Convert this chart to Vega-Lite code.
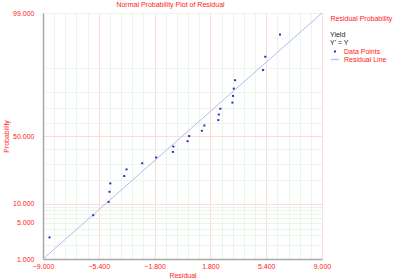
{
  "$schema": "https://vega.github.io/schema/vega-lite/v6.json",
  "width": 279,
  "height": 246,
  "autosize": "none",
  "padding": {"left": 43, "top": 13, "right": 78, "bottom": 21},
  "background": "white",
  "config": {
    "view": {"stroke": "#a8a8a8", "strokeWidth": 1},
    "font": "Liberation Sans"
  },
  "title": {
    "text": "Normal Probability Plot of Residual",
    "color": "#ff2020",
    "fontSize": 7,
    "fontWeight": "normal",
    "font": "Liberation Sans",
    "anchor": "middle",
    "frame": "group",
    "dx": -12,
    "offset": 1
  },
  "datasets": {
    "points": [
      {"Residual": -8.58, "Probability": 2.756, "Quantile": -1.918, "Series": "Data Points"},
      {"Residual": -5.76, "Probability": 6.693, "Quantile": -1.499, "Series": "Data Points"},
      {"Residual": -4.77, "Probability": 10.630, "Quantile": -1.2465, "Series": "Data Points"},
      {"Residual": -4.71, "Probability": 14.567, "Quantile": -1.0548, "Series": "Data Points"},
      {"Residual": -4.66, "Probability": 18.504, "Quantile": -0.8963, "Series": "Data Points"},
      {"Residual": -3.76, "Probability": 22.441, "Quantile": -0.7574, "Series": "Data Points"},
      {"Residual": -3.61, "Probability": 26.378, "Quantile": -0.6317, "Series": "Data Points"},
      {"Residual": -2.60, "Probability": 30.315, "Quantile": -0.5154, "Series": "Data Points"},
      {"Residual": -1.70, "Probability": 34.252, "Quantile": -0.4056, "Series": "Data Points"},
      {"Residual": -0.62, "Probability": 38.189, "Quantile": -0.3005, "Series": "Data Points"},
      {"Residual": -0.59, "Probability": 42.126, "Quantile": -0.1987, "Series": "Data Points"},
      {"Residual": 0.33, "Probability": 46.063, "Quantile": -0.0988, "Series": "Data Points"},
      {"Residual": 0.43, "Probability": 50.000, "Quantile": 0, "Series": "Data Points"},
      {"Residual": 1.25, "Probability": 53.937, "Quantile": 0.0988, "Series": "Data Points"},
      {"Residual": 1.41, "Probability": 57.874, "Quantile": 0.1987, "Series": "Data Points"},
      {"Residual": 2.31, "Probability": 61.811, "Quantile": 0.3005, "Series": "Data Points"},
      {"Residual": 2.34, "Probability": 65.748, "Quantile": 0.4056, "Series": "Data Points"},
      {"Residual": 2.44, "Probability": 69.685, "Quantile": 0.5154, "Series": "Data Points"},
      {"Residual": 3.22, "Probability": 73.622, "Quantile": 0.6317, "Series": "Data Points"},
      {"Residual": 3.26, "Probability": 77.559, "Quantile": 0.7574, "Series": "Data Points"},
      {"Residual": 3.31, "Probability": 81.496, "Quantile": 0.8963, "Series": "Data Points"},
      {"Residual": 3.39, "Probability": 85.433, "Quantile": 1.0548, "Series": "Data Points"},
      {"Residual": 5.20, "Probability": 89.370, "Quantile": 1.2465, "Series": "Data Points"},
      {"Residual": 5.34, "Probability": 93.307, "Quantile": 1.499, "Series": "Data Points"},
      {"Residual": 6.29, "Probability": 97.244, "Quantile": 1.918, "Series": "Data Points"}
    ],
    "line": [
      {"Residual": -9, "Probability": 1, "Quantile": -2.3263, "Series": "Residual Line"},
      {"Residual": 9, "Probability": 99, "Quantile": 2.3263, "Series": "Residual Line"}
    ]
  },
  "encoding": {
    "x": {
      "field": "Residual",
      "type": "quantitative",
      "scale": {"domain": [-9, 9], "nice": false, "zero": false},
      "axis": {
        "title": "Residual",
        "titleColor": "#ff2020",
        "titleFont": "Liberation Sans",
        "titleFontSize": 7,
        "titleFontWeight": "normal",
        "titlePadding": 2,
        "values": [-9, -8.28, -7.56, -6.84, -6.12, -5.4, -4.68, -3.96, -3.24, -2.52, -1.8, -1.08, -0.36, 0.36, 1.08, 1.8, 2.52, 3.24, 3.96, 4.68, 5.4, 6.12, 6.84, 7.56, 8.28, 9],
        "labelExpr": "abs((datum.value + 9) / 3.6 - round((datum.value + 9) / 3.6)) < 0.001 ? format(datum.value, '.3f') : ''",
        "labelColor": "#ff2020",
        "labelFont": "Liberation Sans",
        "labelFontSize": 7,
        "labelPadding": 3,
        "labelOverlap": false,
        "labelFlush": false,
        "labelDx": -2,
        "ticks": false,
        "domainColor": "#a8a8a8",
        "domainWidth": 1.5,
        "grid": true,
        "gridWidth": 1,
        "gridColor": {
          "condition": {"test": "abs((datum.value + 9) / 3.6 - round((datum.value + 9) / 3.6)) < 0.001", "value": "#ffdada"},
          "value": "#eaf6ea"
        }
      }
    },
    "color": {
      "field": "Series",
      "type": "nominal",
      "scale": {"domain": ["Data Points", "Residual Line"], "range": ["#2b2bc0", "#b8b8f2"]},
      "legend": {
        "orient": "none",
        "legendX": 287,
        "legendY": 18,
        "padding": 0,
        "title": ["Yield", "Y' = Y"],
        "titleColor": "#202020",
        "titleFont": "Liberation Sans",
        "titleFontSize": 7,
        "titleFontWeight": "normal",
        "titleLineHeight": 7.5,
        "titlePadding": 1,
        "labelColor": "#ff2020",
        "labelFont": "Liberation Sans",
        "labelFontSize": 7,
        "labelOffset": 4,
        "symbolSize": 64,
        "symbolStrokeWidth": 1.2,
        "rowPadding": 0
      }
    }
  },
  "layer": [
    {
      "data": {"name": "line"},
      "mark": {"type": "line", "strokeWidth": 1, "clip": true},
      "encoding": {
        "y": {
          "field": "Quantile",
          "type": "quantitative",
          "scale": {"domain": [-2.3263, 2.3263], "nice": false, "zero": false},
          "axis": {
            "orient": "right",
            "labels": false,
            "ticks": false,
            "domain": false,
            "grid": false,
            "title": "Residual Probability",
            "titleAngle": 0,
            "titleAlign": "left",
            "titleBaseline": "middle",
            "titleX": 8,
            "titleY": 5.3,
            "titleColor": "#ff2020",
            "titleFont": "Liberation Sans",
            "titleFontSize": 7,
            "titleFontWeight": "normal"
          }
        }
      }
    },
    {
      "data": {"name": "points"},
      "mark": {"type": "point", "filled": false, "strokeWidth": 1.2, "size": 64, "opacity": 1},
      "encoding": {
        "y": {
          "field": "Quantile",
          "type": "quantitative",
          "scale": {"domain": [-2.3263, 2.3263], "nice": false, "zero": false},
          "axis": {
            "orient": "left",
            "title": "Probability",
            "titleColor": "#ff2020",
            "titleFont": "Liberation Sans",
            "titleFontSize": 7,
            "titleFontWeight": "normal",
            "titlePadding": 3,
            "values": [-2.3263, -2.0537, -1.8808, -1.7507, -1.6449, -1.5548, -1.4758, -1.4051, -1.3408, -1.2816, -0.8416, -0.5244, -0.2533, 0, 0.2533, 0.5244, 0.8416, 1.2816, 2.3263],
            "labelExpr": "indexof([1, 5, 10, 50, 99], round(cumulativeNormal(datum.value) * 100)) >= 0 ? format(round(cumulativeNormal(datum.value) * 100), '.3f') : ''",
            "labelColor": "#ff2020",
            "labelFont": "Liberation Sans",
            "labelFontSize": 7,
            "labelPadding": 9,
            "labelOverlap": false,
            "labelFlush": false,
            "ticks": false,
            "domainColor": "#a8a8a8",
            "domainWidth": 1.5,
            "grid": true,
            "gridWidth": 1,
            "gridColor": {
              "condition": {"test": "indexof([10, 50], round(cumulativeNormal(datum.value) * 100)) >= 0", "value": "#ffdada"},
              "value": "#eaf6ea"
            }
          }
        },
        "shape": {
          "field": "Series",
          "type": "nominal",
          "scale": {"domain": ["Data Points", "Residual Line"], "range": ["M-0.11,-0.09H0.11V0.09H-0.11Z", "stroke"]},
          "legend": {
            "orient": "none",
            "legendX": 287,
            "legendY": 18,
            "padding": 0,
            "title": ["Yield", "Y' = Y"],
            "titleColor": "#202020",
            "titleFont": "Liberation Sans",
            "titleFontSize": 7,
            "titleFontWeight": "normal",
            "titleLineHeight": 7.5,
            "titlePadding": 1,
            "labelColor": "#ff2020",
            "labelFont": "Liberation Sans",
            "labelFontSize": 7,
            "labelOffset": 4,
            "symbolSize": 64,
            "symbolStrokeWidth": 1.2,
            "rowPadding": 0
          }
        }
      }
    }
  ],
  "resolve": {"axis": {"y": "independent"}}
}
